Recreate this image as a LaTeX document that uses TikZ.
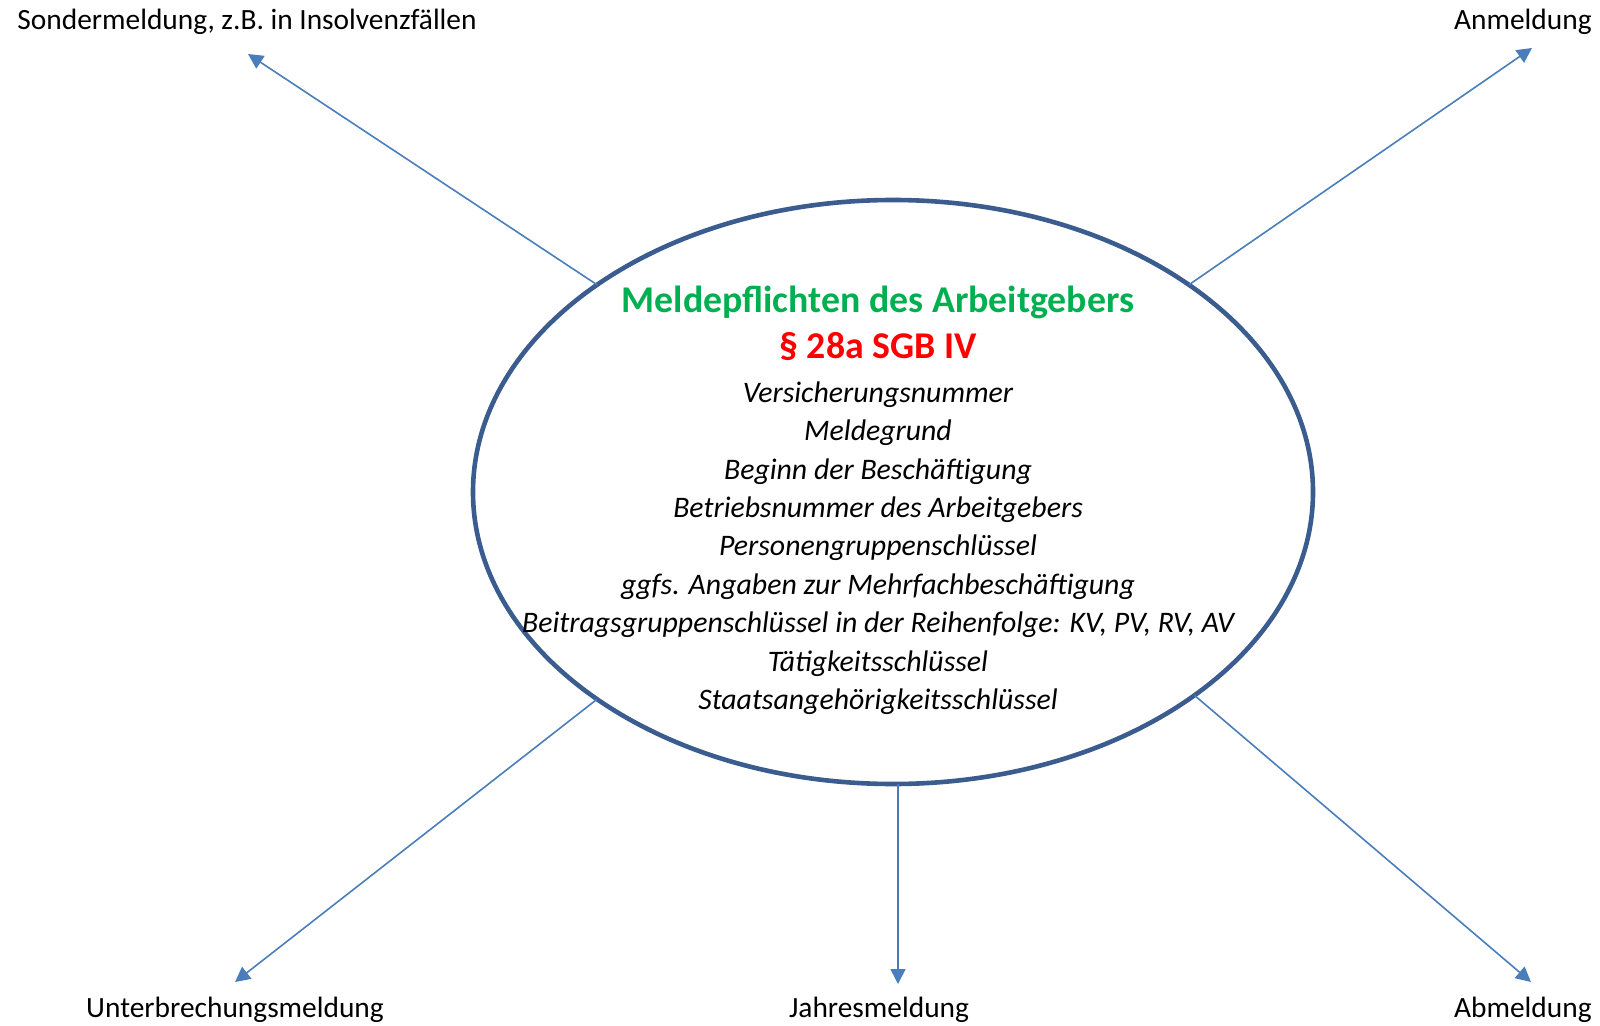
\documentclass[tikz,border=0pt]{standalone}
\usepackage{fontspec}
\setmainfont{Carlito}
\usetikzlibrary{shapes.geometric,arrows.meta}
\definecolor{randblau}{HTML}{3A5C8E}
\definecolor{pfeilblau}{HTML}{4A7EBB}
\definecolor{titelgruen}{HTML}{00B050}
\tikzset{
  meldung/.style={inner sep=0pt,font=\fontsize{14.7}{17}\selectfont},
  pfeil/.style={-{Triangle[length=7.5pt,width=7.5pt]},pfeilblau,line width=0.8pt}
}
\begin{document}
\begin{tikzpicture}[x=0.5pt,y=-0.5pt]
  \useasboundingbox (0,0) rectangle (1600,1026);
  \node[draw=randblau,line width=2.3pt,ellipse,minimum width=420pt,minimum height=292pt,inner sep=0pt,outer sep=0pt] (pflicht) at (893,492) {};
  \node[align=center,inner sep=0pt,font=\fontsize{14.9}{19.2}\selectfont\itshape] (inhalt) at (878,500) {%
    {\fontsize{18.9}{22}\selectfont\bfseries\upshape\color{titelgruen}Meldepflichten des Arbeitgebers}\\[4.2pt]
    {\fontsize{18.9}{22}\selectfont\bfseries\upshape\color{red}\S\ 28a SGB IV}\\[2.5pt]
    Versicherungsnummer\\
    Meldegrund\\
    Beginn der Beschäftigung\\
    Betriebsnummer des Arbeitgebers\\
    Personengruppenschlüssel\\
    ggfs. Angaben zur Mehrfachbeschäftigung\\
    Beitragsgruppenschlüssel in der Reihenfolge: KV, PV, RV, AV\\
    Tätigkeitsschlüssel\\
    Staatsangehörigkeitsschlüssel};
  \node[meldung,anchor=west] (sonder) at (17,22) {Sondermeldung, z.B. in Insolvenzfällen};
  \node[meldung,anchor=east] (anmeldung) at (1592,22) {Anmeldung};
  \node[meldung] (unterbrechung) at (235,1010) {Unterbrechungsmeldung};
  \node[meldung] (jahres) at (879,1010) {Jahresmeldung};
  \node[meldung,anchor=east] (abmeldung) at (1592,1010) {Abmeldung};
  \coordinate (sonderziel) at (248,54);
  \coordinate (anziel) at (1532,48);
  \coordinate (unterziel) at (235,982);
  \coordinate (jahresziel) at (898,984);
  \coordinate (abziel) at (1531,982);
  \draw[pfeil] (pflicht.145) -- (sonderziel);
  \draw[pfeil] (pflicht.35.4) -- (anziel);
  \draw[pfeil] (pflicht.215) -- (unterziel);
  \draw[pfeil] ([xshift=2.5pt]pflicht.south) -- (jahresziel);
  \draw[pfeil] (pflicht.-34.8) -- (abziel);
\end{tikzpicture}
\end{document}
